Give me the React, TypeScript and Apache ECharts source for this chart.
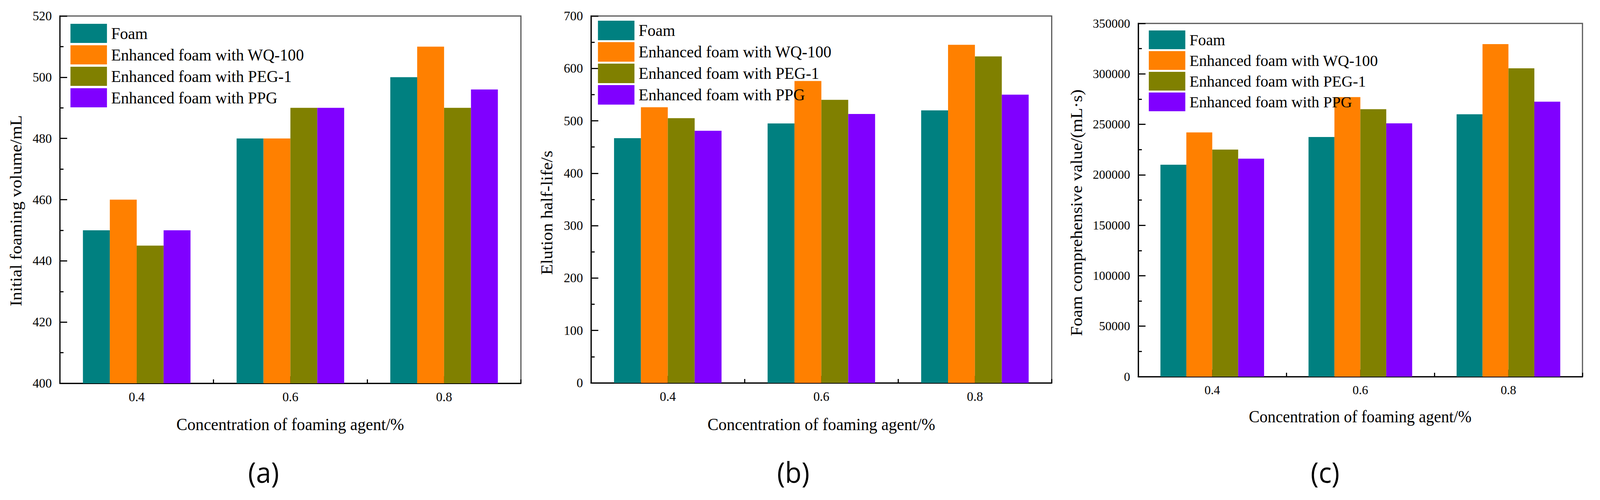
import React, { useEffect, useRef } from "react";
import * as echarts from "echarts";

const categories = ["0.4", "0.6", "0.8"];
const seriesNames = [
  "Foam",
  "Enhanced foam with WQ-100",
  "Enhanced foam with PEG-1",
  "Enhanced foam with PPG",
];
const colors = ["#008080", "#FF8000", "#808000", "#8000FF"];

// (a) Initial foaming volume / mL
const volumeFoam = [450, 480, 500];
const volumeWQ = [460, 480, 510];
const volumePEG = [445, 490, 490];
const volumePPG = [450, 490, 496];

// (b) Elution half-life / s
const halfLifeFoam = [467, 495, 520];
const halfLifeWQ = [526, 576, 645];
const halfLifePEG = [505, 540, 623];
const halfLifePPG = [481, 513, 550];

// (c) Foam comprehensive value / (mL·s)
const compFoam = [210000, 237500, 260000];
const compWQ = [242000, 277000, 329500];
const compPEG = [225000, 265000, 305500];
const compPPG = [216000, 251000, 272500];

const yTitles = [
  "Initial foaming volume/mL",
  "Elution half-life/s",
  "Foam comprehensive value/(mL·s)",
];
const xTitle = "Concentration of foaming agent/%";
const panelLabels = ["(a)", "(b)", "(c)"];

const SERIF = "Liberation Serif";

export default function App() {
  const ref = useRef<HTMLDivElement>(null);

  useEffect(() => {
    const el = ref.current;
    if (!el) return;
    const W = el.clientWidth || window.innerWidth;
    const H = el.clientHeight || window.innerHeight;
    const sx = W / 4383;
    const sy = H / 1281;
    const sf = Math.sqrt(sx * sy);
    const X = (v: number) => v * sx;
    const Y = (v: number) => v * sy;
    const F = (v: number) => v * sf;
    const squeeze = sx / sy;

    const chart = echarts.init(el, undefined, { renderer: "svg" });

    const panelData = [
      [volumeFoam, volumeWQ, volumePEG, volumePPG],
      [halfLifeFoam, halfLifeWQ, halfLifePEG, halfLifePPG],
      [compFoam, compWQ, compPEG, compPPG],
    ];
    const grids = [
      { left: 164, top: 41, width: 1263, height: 941 },
      { left: 1619, top: 41, width: 1262, height: 940 },
      { left: 3118, top: 60, width: 1217, height: 905 },
    ];
    const yRanges = [
      { min: 400, max: 520, interval: 20 },
      { min: 0, max: 700, interval: 100 },
      { min: 0, max: 350000, interval: 50000 },
    ];
    const tickFont = [34, 34, 33];
    const legendPos = [
      { left: 193, top: 61, h: 49, gap: 6, fs: 44 },
      { left: 1638, top: 53, h: 50, gap: 5, fs: 44 },
      { left: 3147, top: 78, h: 48, gap: 5, fs: 43 },
    ];
    const yTitlePos = [
      [43, 540],
      [1498, 545],
      [2949, 545],
    ];
    const xTitlePos = [
      [795, 1087],
      [2250, 1087],
      [3726, 1067],
    ];
    const labelPos = [
      [722, 1208],
      [2173, 1208],
      [3630, 1208],
    ];

    const black = { color: "#000", width: F(3) };

    const xAxes: any[] = [];
    const yAxes: any[] = [];
    const series: any[] = [];
    const legends: any[] = [];
    const graphics: any[] = [];

    for (let p = 0; p < 3; p++) {
      xAxes.push({
        type: "category",
        gridIndex: p,
        position: "bottom",
        data: categories,
        axisLine: { show: true, lineStyle: black },
        axisTick: { show: true, inside: true, length: Y(18), alignWithLabel: true, lineStyle: black },
        axisLabel: {
          show: true,
          fontFamily: SERIF,
          fontSize: F(tickFont[p]),
          color: "#000",
          margin: Y(18),
        },
        splitLine: { show: false },
      });
      xAxes.push({
        type: "category",
        gridIndex: p,
        position: "bottom",
        data: categories,
        axisLine: { show: false },
        axisTick: { show: true, inside: true, length: Y(10), alignWithLabel: false, lineStyle: black },
        axisLabel: { show: false },
        splitLine: { show: false },
      });
      yAxes.push({
        type: "value",
        gridIndex: p,
        min: yRanges[p].min,
        max: yRanges[p].max,
        interval: yRanges[p].interval,
        axisLine: { show: true, lineStyle: black },
        axisTick: { show: true, inside: true, length: X(20), lineStyle: black },
        minorTick: { show: true, splitNumber: 2, length: X(10), lineStyle: black },
        axisLabel: {
          fontFamily: SERIF,
          fontSize: F(tickFont[p]),
          color: "#000",
          margin: X(22),
          formatter: (v: number) => String(v),
        },
        splitLine: { show: false },
        minorSplitLine: { show: false },
      });
      for (let s = 0; s < 4; s++) {
        series.push({
          type: "bar",
          name: seriesNames[s],
          xAxisIndex: p * 2,
          yAxisIndex: p,
          data: panelData[p][s],
          barGap: "0%",
          barCategoryGap: "30%",
          itemStyle: { color: colors[s] },
        });
      }
      const lp = legendPos[p];
      legends.push({
        orient: "vertical",
        left: X(lp.left),
        top: Y(lp.top),
        padding: 0,
        itemWidth: X(100),
        itemHeight: Y(lp.h),
        itemGap: Y(lp.gap),
        icon: "rect",
        selectedMode: false,
        data: seriesNames,
        textStyle: {
          fontFamily: SERIF,
          fontSize: X(lp.fs),
          color: "#000",
          lineHeight: Y(lp.h),
          padding: [0, 0, 0, X(6)],
        },
      });
      graphics.push({
        type: "text",
        x: X(yTitlePos[p][0]),
        y: Y(yTitlePos[p][1]),
        rotation: Math.PI / 2,
        scaleY: squeeze,
        style: {
          text: yTitles[p],
          fontFamily: SERIF,
          fontSize: Y(45),
          fill: "#000",
          align: "center",
          verticalAlign: "middle",
        },
      });
      graphics.push({
        type: "text",
        x: X(xTitlePos[p][0]),
        y: Y(xTitlePos[p][1]),
        scaleX: squeeze,
        style: {
          text: xTitle,
          fontFamily: SERIF,
          fontSize: Y(p === 2 ? 44 : 45),
          fill: "#000",
          align: "center",
          verticalAlign: "middle",
        },
      });
      graphics.push({
        type: "text",
        x: X(labelPos[p][0]),
        y: Y(labelPos[p][1]),
        scaleX: squeeze,
        style: {
          text: panelLabels[p],
          fontFamily: "Open Sans",
          fontSize: Y(74),
          fill: "#000",
          align: "center",
          verticalAlign: "middle",
        },
      });
    }

    chart.setOption({
      animation: false,
      backgroundColor: "#fff",
      textStyle: { fontFamily: SERIF },
      grid: grids.map((g) => ({
        left: X(g.left),
        top: Y(g.top),
        width: X(g.width),
        height: Y(g.height),
        show: true,
        borderColor: "#555",
        borderWidth: F(3),
        backgroundColor: "transparent",
        containLabel: false,
      })),
      xAxis: xAxes,
      yAxis: yAxes,
      legend: legends,
      series,
      graphic: graphics,
    });

    return () => chart.dispose();
  }, []);

  return (
    <div
      ref={ref}
      style={{
        position: "fixed",
        left: 0,
        top: 0,
        width: "100vw",
        height: "100vh",
        background: "#fff",
      }}
    />
  );
}
